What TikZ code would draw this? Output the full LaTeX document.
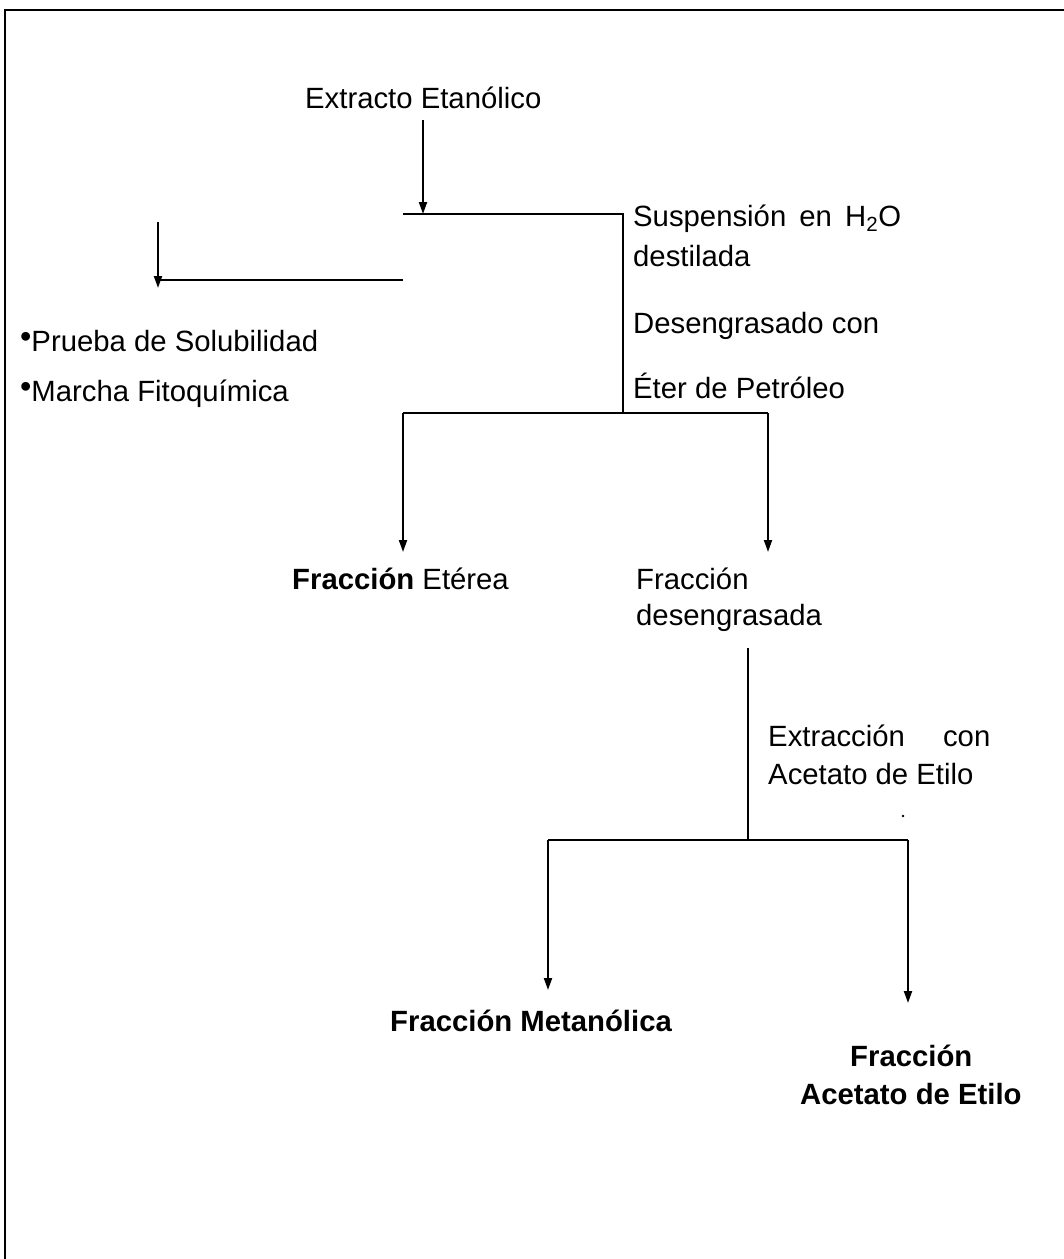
\documentclass[tikz,border=0pt]{standalone}
\usepackage{fontspec}
\setmainfont{Liberation Sans}
\usetikzlibrary{arrows.meta}
\newcommand{\mybul}{\raisebox{4pt}{\scalebox{1.1}{•}}}
\begin{document}
\begin{tikzpicture}[x=1pt,y=-1pt,
  txt/.style={inner sep=0pt,anchor=base west,font=\fontsize{29.3}{36}\selectfont},
  conn/.style={line width=2pt},
  arr/.style={line width=2pt,-{Triangle[width=8pt,length=12pt]}},
  frame/.style={line width=2.5pt}]
\useasboundingbox (0,0) rectangle (1064,1259);
% frame
\coordinate (fBL) at (5,1259);
\coordinate (fTL) at (5,10);
\coordinate (fTR) at (1064,10);
\draw[frame] (fBL) -- (fTL) -- (fTR);

% texts
\node[txt] (ext) at (305,108) {Extracto Etanólico};
\node[txt] (sus) at (633,226) {Suspensión\hspace{0.45em}en\hspace{0.45em}H\textsubscript{2}O};
\node[txt] (des) at (633,266) {destilada};
\node[txt] (deg) at (633,333) {Desengrasado con};
\node[txt] (eter) at (633,398) {Éter de Petróleo};
\node[txt] (pru) at (20,351) {\mybul Prueba de Solubilidad};
\node[txt] (mar) at (20,401) {\mybul Marcha Fitoquímica};
\node[txt] (fet) at (292,589) {\textbf{Fracción} Etérea};
\node[txt] (fde1) at (636,589) {Fracción};
\node[txt] (fde2) at (636,625) {desengrasada};
\node[txt] (exa1) at (768,746) {Extracción\hspace{1.3em}con};
\node[txt] (exa2) at (768,784) {Acetato de Etilo};
\node[txt] (fme) at (390,1031) {\textbf{Fracción Metanólica}};
\node[txt] (fac1) at (850,1066) {\textbf{Fracción}};
\node[txt] (fac2) at (800,1104) {\textbf{Acetato de Etilo}};

% coordinates
\coordinate (a0) at (423,120);
\coordinate (j1) at (423,214);
\coordinate (h1L) at (403,214);
\coordinate (h1R) at (623,214);
\coordinate (v1B) at (623,413);
\coordinate (l1R) at (403,280);
\coordinate (l1L) at (158,280);
\coordinate (l1T) at (158,222);
\coordinate (l1B) at (158,288);
\coordinate (h2L) at (403,413);
\coordinate (h2R) at (768,413);
\coordinate (e1) at (403,552);
\coordinate (e2) at (768,552);
\coordinate (v2T) at (748,648);
\coordinate (v2B) at (748,840);
\coordinate (h3L) at (548,840);
\coordinate (h3R) at (908,840);
\coordinate (m1) at (548,990);
\coordinate (m2) at (908,1003);

% connectors
\draw[arr] (a0) -- (j1);
\draw[conn] (h1L) -- (h1R) -- (v1B);
\draw[conn] (l1R) -- (l1L);
\draw[arr] (l1T) -- (l1B);
\draw[conn] (h2L) -- (h2R);
\draw[arr] (h2L) -- (e1);
\draw[arr] (h2R) -- (e2);
\draw[conn] (v2T) -- (v2B);
\draw[conn] (h3L) -- (h3R);
\draw[arr] (h3L) -- (m1);
\draw[arr] (h3R) -- (m2);
\fill (903,816) circle (1.3pt);
\end{tikzpicture}
\end{document}
